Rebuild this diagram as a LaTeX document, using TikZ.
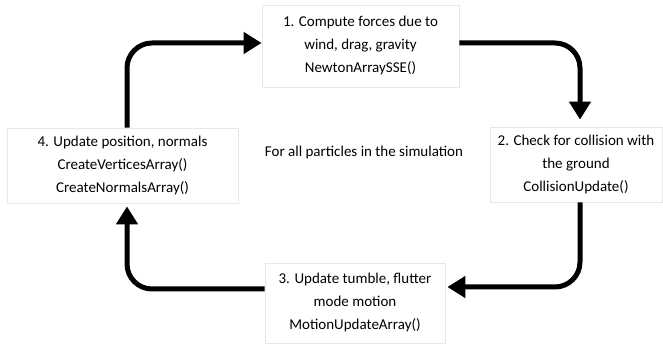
\documentclass[tikz,border=0pt]{standalone}
\usepackage{fontspec}
\setmainfont{Carlito}
\usepackage{tikz}
\usetikzlibrary{arrows.meta,positioning,calc}

\begin{document}
\begin{tikzpicture}[x=1pt,y=1pt,font=\fontsize{15}{23}\selectfont,
  stepbox/.style={draw=black!9,line width=0.8pt,align=center,inner sep=0pt},
  flowarrow/.style={line width=5pt,rounded corners=25pt,-{Triangle[width=21pt,length=18pt]}}]
\useasboundingbox (0,0) rectangle (663,347);
% the four steps
\node[stepbox,minimum width=197,minimum height=82] (compute) at (360.5,301) {1. Compute forces due to\\ wind, drag, gravity\\ NewtonArraySSE()};
\node[stepbox,minimum width=172,minimum height=75] (collide) at (576,182.5) {2. Check for collision with\\ the ground\\ CollisionUpdate()};
\node[stepbox,minimum width=180,minimum height=80] (motion) at (355,44) {3. Update tumble, flutter\\ mode motion\\ MotionUpdateArray()};
\node[stepbox,minimum width=231,minimum height=75] (update) at (122.5,181.5) {4. Update position, normals\\ CreateVerticesArray()\\ CreateNormalsArray()};
\node (loop) at (364,194) {For all particles in the simulation};
% loop arrows
\draw[flowarrow] ([yshift=3]compute.east) -| ([shift={(4,7)}]collide.north);
\draw[flowarrow] ([xshift=4]collide.south) |- ([shift={(2,16)}]motion.east);
\draw[flowarrow] ([yshift=14]motion.west) -| ([xshift=4.5,yshift=-3]update.south);
\draw[flowarrow] ([xshift=4.5]update.north) |- ([yshift=3]compute.west);
\end{tikzpicture}
\end{document}
